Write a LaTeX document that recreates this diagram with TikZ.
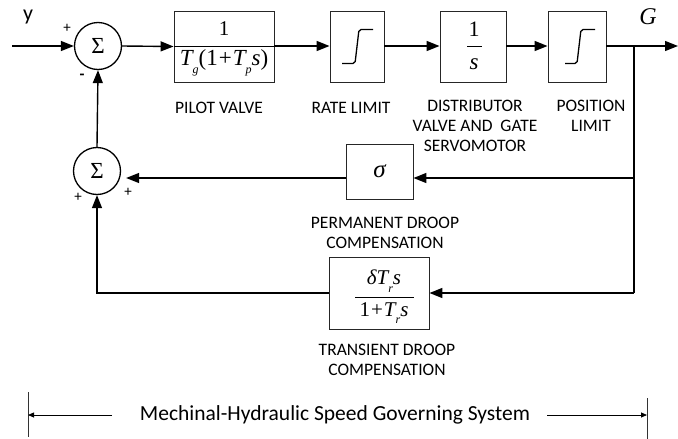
\documentclass[tikz,border=0pt]{standalone}
\usepackage{fontspec}
\setmainfont{Carlito}
\newfontfamily\tms{Liberation Serif}
\usetikzlibrary{arrows.meta,calc}
\newcommand\mysub[1]{\raisebox{-0.35em}{\fontsize{12}{12}\selectfont\itshape #1}}
\tikzset{
  ln/.style={line width=1.4pt},
  arr/.style={line width=1.4pt,-{Triangle[length=13pt,width=10pt]}},
  sumc/.style={circle,draw,line width=1.3pt,minimum size=47pt,inner sep=0pt,font=\tms\fontsize{23}{23}\selectfont},
  blk/.style={draw=black!85,line width=0.9pt,inner sep=0pt},
  lbl/.style={font=\fontsize{17.5}{20}\selectfont,align=center,inner sep=0pt},
  sgn/.style={font=\fontsize{15}{15}\selectfont,inner sep=0pt},
  mth/.style={font=\tms\fontsize{21}{21}\selectfont\itshape,inner sep=0pt},
  stepglyph/.style={line width=1.3pt,rounded corners=2pt},
  dim/.style={line width=0.8pt,draw=black!80},
  dimarr/.style={line width=0.8pt,-{Triangle[length=6pt,width=5pt]}}
}
\begin{document}
\begin{tikzpicture}[x=1pt,y=-1pt]
\useasboundingbox (0,0) rectangle (678,439);
% sum junctions
\node[sumc] (s1) at (98,46) {Σ};
\node[sumc] (s2) at (97,171) {Σ};
% blocks
\node[blk,minimum width=100pt,minimum height=71pt] (b1) at (224,46.5) {};
\node[blk,minimum width=54pt,minimum height=71pt] (b2) at (357,46.5) {};
\node[blk,minimum width=66pt,minimum height=71pt] (b3) at (473,46.5) {};
\node[blk,minimum width=58pt,minimum height=71pt] (b4) at (577,46.5) {};
\node[blk,minimum width=67pt,minimum height=55pt] (sig) at (379.5,171.5) {};
\node[blk,minimum width=100pt,minimum height=72pt] (tr) at (379,293) {};
% block contents
\node[mth,font=\tms\fontsize{21}{21}\selectfont] (b1n) at (224,29) {1};
\draw[line width=0.9pt] (b1.west) -- (b1.east);
\node[mth,font=\tms\fontsize{23}{23}\selectfont\itshape] (b1d) at (224,63) {T\mysub{g}\upshape(1\kern1pt+\kern1pt\itshape T\mysub{p}s\upshape)};
\node[mth,font=\tms\fontsize{22}{22}\selectfont] (b3n) at (474,29) {1};
\draw[line width=0.9pt] ($(b3.center)+(-6,0)$) -- ($(b3.center)+(9,0)$);
\node[mth,font=\tms\fontsize{23}{23}\selectfont\itshape] (b3d) at (474,64) {s};
\node[mth,font=\tms\fontsize{25}{25}\selectfont\itshape] (sign) at (sig) {σ};
\node[mth] (trn) at (384,281) {δT\mysub{r}s};
\draw[line width=0.9pt] (355,297) -- (414,297);
\node[mth,font=\tms\fontsize{21}{21}\selectfont] (trd) at (384,313) {1\kern1pt+\kern1pt\itshape T\mysub{r}s};
\draw[stepglyph] ($(b2.center)+(-15,17)$) -- ($(b2.center)+(-2,17)$) -- ($(b2.center)+(2,-17)$) -- ($(b2.center)+(16,-17)$);
\draw[stepglyph] ($(b4.center)+(-12,17)$) -- ($(b4.center)+(0,17)$) -- ($(b4.center)+(4,-17)$) -- ($(b4.center)+(18,-17)$);
% coordinates
\coordinate (in) at (12,46);
\coordinate (out) at (678,46);
\coordinate (br) at (634,46);
\coordinate (fb1) at (634,178);
\coordinate (brb) at (634,293);
% connectors
\draw[arr] (in) -- (s1.west);
\draw[arr] (s1.east) -- (b1.west);
\draw[arr] (b1.east |- s1) -- (b2.west |- s1);
\draw[arr] (b2.east |- s1) -- (b3.west |- s1);
\draw[arr] (b3.east |- s1) -- (b4.west |- s1);
\draw[arr] (b4.east |- s1) -- (out);
\draw[ln] (br) -- (brb);
\draw[arr] (fb1) -- (fb1 -| sig.east);
\draw[arr,shorten >=5pt] (fb1 -| sig.west) -- (fb1 -| s2.east);
\draw[arr] (brb) -- (tr.east);
\draw[arr] (tr.west) -| (s2.south);
\draw[arr] (s2.north) -- (s1.south);
% signs
\node[sgn] (p1) at (67,28) {+};
\node[sgn,font=\bfseries\fontsize{16}{16}\selectfont] (m1) at (82,77) {-};
\node[sgn] (p2) at (78,197) {+};
\node[sgn] (p3) at (128,192) {+};
\node[font=\fontsize{22}{22}\selectfont,inner sep=0pt] (ylab) at (28,17) {y};
\node[font=\tms\fontsize{24}{24}\selectfont\itshape,inner sep=0pt] (glab) at (648,17) {G};
% labels
\node[lbl] (l1) at (219,108) {PILOT VALVE};
\node[lbl] (l2) at (351,108) {RATE LIMIT};
\node[lbl] (l3) at (475,126) {DISTRIBUTOR\\VALVE AND\ \ GATE\\SERVOMOTOR};
\node[lbl] (l4) at (591,116) {POSITION\\LIMIT};
\node[lbl] (l5) at (385,233) {PERMANENT DROOP\\COMPENSATION};
\node[lbl] (l6) at (387,360) {TRANSIENT DROOP\\COMPENSATION};
% bottom dimension
\coordinate (tl1) at (28,392);
\coordinate (tl2) at (28,437);
\coordinate (tr1) at (647,398);
\coordinate (tr2) at (647,439);
\draw[dim] (tl1) -- (tl2);
\draw[dim] (tr1) -- (tr2);
\node[font=\fontsize{21.5}{20}\selectfont,inner sep=0pt] (sys) at (335,415) {Mechinal-Hydraulic Speed Governing System};
\coordinate (al) at (112,415);
\coordinate (ar) at (547,415);
\draw[dimarr] (al) -- (al -| tl1);
\draw[dimarr] (ar) -- (ar -| tr1);
\end{tikzpicture}
\end{document}
